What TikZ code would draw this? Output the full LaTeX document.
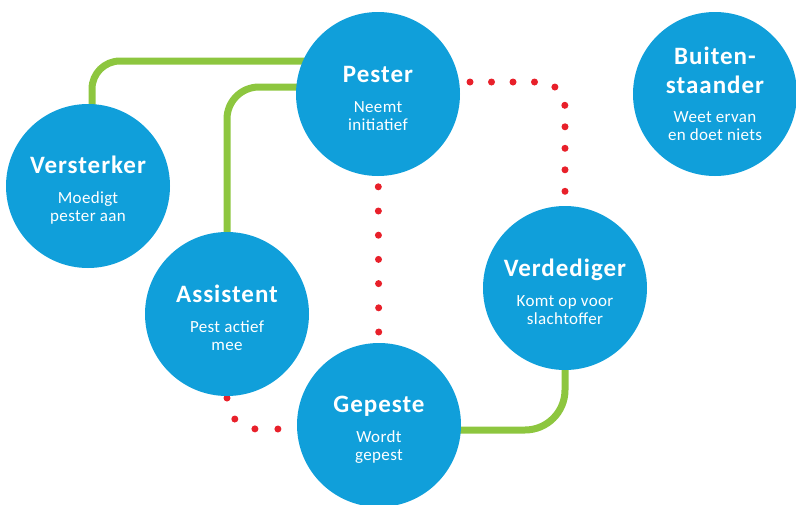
\documentclass[tikz,border=0pt]{standalone}
\usepackage{fontspec}
\setmainfont[LetterSpace=2]{Carlito}
\newfontfamily\titlefont[LetterSpace=4]{Carlito}
\usetikzlibrary{backgrounds}

\definecolor{roleblue}{HTML}{109FDA}
\definecolor{linkgreen}{HTML}{8DC63F}
\definecolor{dotred}{HTML}{E8202A}
\newcommand{\rolefont}{\fontsize{17}{18}\selectfont\lineskiplimit=-50pt\relax}
\newcommand{\rolename}[1]{{\titlefont\bfseries\fontsize{25}{18}\selectfont #1}}
\newcommand{\lowered}{\rule{0pt}{26pt}}

\begin{document}
\begin{tikzpicture}[x=1pt,y=-1pt,
    role/.style={circle, fill=roleblue, text=white, minimum size=164pt, inner sep=0pt,
        align=center, font=\rolefont},
    link/.style={linkgreen, line width=7pt},
    dots/.style={dotred, line width=7pt, line cap=round, dash pattern=on 0pt off 21.5pt}]
    \useasboundingbox (0,0) rectangle (796,504);
    % de rollen
    \node[role] (pester) at (378,94) {\lowered\rolename{Pester}\\[12pt]Neemt\\initiatief};
    \node[role] (buiten) at (715,94) {\rolename{Buiten-}\\[11pt]\rolename{staander}\\[11pt]Weet ervan\\en doet niets};
    \node[role] (verst) at (88,186) {\lowered\rolename{Versterker}\\[12pt]Moedigt\\pester aan};
    \node[role] (assist) at (227,314) {\lowered\rolename{Assistent}\\[12pt]Pest actief\\mee};
    \node[role] (verd) at (565,288) {\lowered\rolename{Verdediger}\\[12pt]Komt op voor\\slachtoffer};
    \node[role] (gepeste) at (379,425) {\lowered\rolename{Gepeste}\\[12pt]Wordt\\gepest};
    \begin{pgfonlayer}{background}
        % groene lijnen
        \draw[link, rounded corners=28pt] ([xshift=4pt]verst.center) |- ([yshift=33pt]pester.center);
        \draw[link, rounded corners=32pt] (assist.center) |- ([yshift=7pt]pester.center);
        \draw[link, rounded corners=40pt] ([yshift=-5pt]gepeste.center) -| (verd.center);
        % rode stippellijnen
        \draw[dots, rounded corners=25pt] ([xshift=6pt,yshift=12pt]pester.center) -| (verd.center);
        \draw[dots, dash pattern=on 0pt off 24.2pt] ([yshift=4pt]pester.center) -- (gepeste.center);
        \draw[dots, dash pattern=on 0pt off 23pt, rounded corners=30pt] ([yshift=8pt]assist.center) |- ([yshift=-4pt]gepeste.center);
    \end{pgfonlayer}
\end{tikzpicture}
\end{document}
